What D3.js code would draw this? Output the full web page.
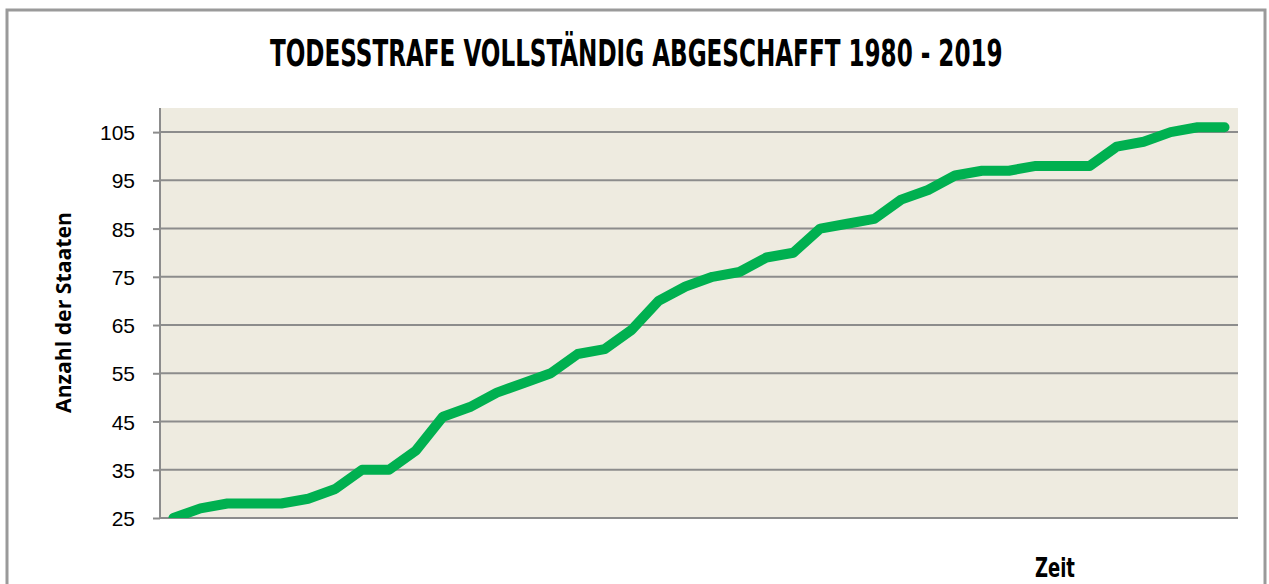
<!DOCTYPE html>
<html>
<head>
<meta charset="utf-8">
<script src="https://cdn.jsdelivr.net/npm/d3@7"></script>
<style>
body { margin: 0; background: #ffffff; }
</style>
</head>
<body>
<script>

// Years and number of abolitionist states
var years = d3.range(1980, 2020);
var states = [25, 27, 28, 28, 28, 29, 31, 35, 35, 39,
              46, 48, 51, 53, 55, 59, 60, 64, 70, 73,
              75, 76, 79, 80, 85, 86, 87, 91, 93, 96,
              97, 97, 98, 98, 98, 102, 103, 105, 106, 106];
var yTicks = [25, 35, 45, 55, 65, 75, 85, 95, 105];

var plot = {left: 160, right: 1238, top: 108, bottom: 518};

var svg = d3.select("body").append("svg")
						.attr("width", 1269)
						.attr("height", 584);

var x = d3.scalePoint()
						.domain(years)
						.range([plot.left, plot.right])
						.padding(0.5);

var y = d3.scaleLinear()
						.domain([25, 110])
						.range([plot.bottom, plot.top]);

// squeeze a text sideways so it fills the given width, like a condensed face
function condensed(sel, left, base, width)
{
	var w = sel.node().getComputedTextLength();
	sel.attr("transform", "translate(" + left + "," + base + ") scale(" + (width / w) + ",1)");
}

// Draw the outer frame of the chart
svg.append("rect")
						.attr("x", 7)
						.attr("y", 10)
						.attr("width", 1258)
						.attr("height", 600)
						.attr("fill", "none")
						.attr("stroke", "#9a9a9a")
						.attr("stroke-width", 3);

// Draw the plot background
svg.append("rect")
						.attr("x", plot.left)
						.attr("y", plot.top)
						.attr("width", plot.right - plot.left)
						.attr("height", plot.bottom - plot.top)
						.attr("fill", "#eeebe0");

// Draw the horizontal gridlines
svg.append("g")
						.selectAll("line")
						.data(yTicks)
						.join("line")
						.attr("x1", plot.left)
						.attr("x2", plot.right)
						.attr("y1", d => y(d))
						.attr("y2", d => y(d))
						.attr("stroke", "#8c8c8c")
						.attr("stroke-width", 2);

// Draw the y axis with its tick labels
var yAxis = svg.append("g")
						.attr("transform", "translate(" + plot.left + ",0)")
						.call(d3.axisLeft(y).tickValues(yTicks).tickSize(7).tickPadding(18));

yAxis.select(".domain")
						.attr("d", "M0," + plot.top + "V" + plot.bottom)
						.attr("stroke", "#8c8c8c")
						.attr("stroke-width", 2);

yAxis.selectAll(".tick line")
						.attr("stroke", "#8c8c8c")
						.attr("stroke-width", 2);

yAxis.selectAll(".tick text")
						.attr("fill", "#000")
						.attr("dy", "0.36em")
						.style("font-family", "'Liberation Sans', Arial, sans-serif")
						.style("font-size", "21px");

// Clip the line to the plot area
svg.append("clipPath")
						.attr("id", "plot-clip")
						.append("rect")
						.attr("x", plot.left)
						.attr("y", plot.top)
						.attr("width", plot.right - plot.left)
						.attr("height", plot.bottom - plot.top);

// Draw the line of abolitionist states
var line = d3.line()
						.x((d, i) => x(years[i]))
						.y(d => y(d));

svg.append("path")
						.datum(states)
						.attr("d", line)
						.attr("clip-path", "url(#plot-clip)")
						.attr("fill", "none")
						.attr("stroke", "#00b050")
						.attr("stroke-width", 10)
						.attr("stroke-linejoin", "round")
						.attr("stroke-linecap", "round");

// Draw the title
var title = svg.append("text")
						.style("font-family", "'DejaVu Sans Condensed', 'Liberation Sans', sans-serif")
						.style("font-weight", "bold")
						.style("font-size", "37px")
						.text("TODESSTRAFE VOLLSTÄNDIG ABGESCHAFFT 1980 - 2019");
condensed(title, 270, 66, 733);

// Draw the y axis title
svg.append("text")
						.attr("transform", "translate(71,413) rotate(-90)")
						.attr("textLength", 201)
						.attr("lengthAdjust", "spacingAndGlyphs")
						.style("font-family", "'Open Sans', sans-serif")
						.style("font-weight", "bold")
						.style("font-size", "21px")
						.text("Anzahl der Staaten");

// Draw the x axis title
var xTitle = svg.append("text")
						.style("font-family", "'DejaVu Sans Condensed', 'Liberation Sans', sans-serif")
						.style("font-weight", "bold")
						.style("font-size", "26px")
						.text("Zeit");
condensed(xTitle, 1035, 577, 40);

</script>
</body>
</html>
